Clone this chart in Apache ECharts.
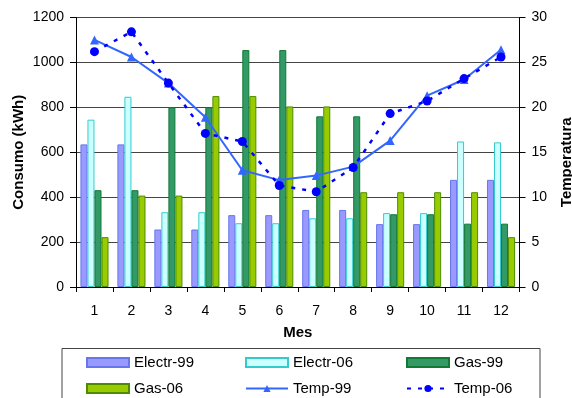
<!DOCTYPE html>
<html>
<head>
<meta charset="utf-8">
<script src="https://cdn.jsdelivr.net/npm/echarts@6/dist/echarts.min.js"></script>
<style>
  html, body { margin: 0; padding: 0; background: #fff; }
  #chart { width: 572px; height: 398px; }
</style>
</head>
<body>
<div id="chart"></div>
<script>
// Monthly energy consumption (kWh) and mean temperature, 1999 vs 2006
const months = ['1', '2', '3', '4', '5', '6', '7', '8', '9', '10', '11', '12'];
const electr99 = [635, 635, 256, 256, 320, 320, 343, 343, 280, 280, 477, 477];
const electr06 = [745, 847, 333, 333, 284, 284, 306, 306, 329, 329, 648, 644];
const gas99 = [431, 431, 800, 800, 1055, 1055, 760, 760, 324, 324, 282, 282];
const gas06 = [222, 407, 407, 850, 850, 804, 804, 422, 422, 422, 422, 222];
const temp99 = [27.5, 25.6, 22.7, 18.9, 13.0, 11.9, 12.4, 13.4, 16.3, 21.3, 23.1, 26.4];
const temp06 = [26.2, 28.4, 22.7, 17.1, 16.2, 11.3, 10.6, 13.3, 19.3, 20.7, 23.2, 25.6];
const leftTicks = [0, 1200, 200];
const rightTicks = [0, 30, 5];

const font = 'Liberation Sans, Arial, sans-serif';
const chart = echarts.init(document.getElementById('chart'), null, { renderer: 'canvas' });

function bar(name, data, fill, border) {
  return {
    name, type: 'bar', data, yAxisIndex: 0,
    barGap: '0%', barCategoryGap: '24%',
    itemStyle: { color: fill, borderColor: border, borderWidth: 1 },
    emphasis: { disabled: true }
  };
}

function legendAt(name, left, top, icon) {
  const l = {
    data: [name], left, top, padding: 0,
    itemWidth: 42, itemHeight: 9, itemGap: 0,
    textStyle: { fontFamily: font, fontSize: 15, color: '#000' },
    selectedMode: false
  };
  if (icon) l.icon = icon;
  return l;
}

chart.setOption({
  animation: false,
  backgroundColor: '#fff',
  textStyle: { fontFamily: font },
  grid: { left: 76, right: 52.5, top: 17.5, bottom: 111, containLabel: false, outerBoundsMode: 'none' },
  legend: [
    legendAt('Electr-99', 86, 355, 'rect'),
    legendAt('Electr-06', 245, 355, 'rect'),
    legendAt('Gas-99', 406, 355, 'rect'),
    legendAt('Gas-06', 86, 381, 'rect'),
    legendAt('Temp-99', 245, 381),
    legendAt('Temp-06', 406, 381)
  ],
  graphic: [{
    type: 'rect', silent: true, z: -1,
    shape: { x: 62, y: 348.5, width: 478, height: 80 },
    style: { fill: 'none', stroke: '#444', lineWidth: 1 }
  }],
  xAxis: {
    type: 'category', data: months, boundaryGap: true,
    name: 'Mes', nameLocation: 'middle', nameGap: 38,
    nameTextStyle: { fontFamily: font, fontSize: 15, fontWeight: 'bold', color: '#000' },
    axisLine: { lineStyle: { color: '#000', width: 1 } },
    axisTick: { show: true, alignWithLabel: false, length: 5, lineStyle: { color: '#000' } },
    axisLabel: { fontFamily: font, fontSize: 14, color: '#000', margin: 17 }
  },
  yAxis: [{
    type: 'value', min: leftTicks[0], max: leftTicks[1], interval: leftTicks[2],
    name: 'Consumo (kWh)', nameLocation: 'middle', nameGap: 50, nameRotate: 90, nameMoveOverlap: false,
    nameTextStyle: { fontFamily: font, fontSize: 15, fontWeight: 'bold', color: '#000' },
    axisLine: { show: true, lineStyle: { color: '#000', width: 1 } },
    axisTick: { show: true, length: 6, lineStyle: { color: '#000' } },
    axisLabel: { fontFamily: font, fontSize: 14, color: '#000', margin: 12, formatter: v => String(v) },
    splitLine: { show: true, lineStyle: { color: '#444', width: 1 } }
  }, {
    type: 'value', position: 'right', min: rightTicks[0], max: rightTicks[1], interval: rightTicks[2],
    name: 'Temperatura', nameLocation: 'middle', nameGap: 40, nameRotate: 90,
    nameTextStyle: { fontFamily: font, fontSize: 15, fontWeight: 'bold', color: '#000', padding: [0, 20, 0, 0] },
    axisLine: { show: true, lineStyle: { color: '#000', width: 1 } },
    axisTick: { show: true, length: 6, lineStyle: { color: '#000' } },
    axisLabel: { fontFamily: font, fontSize: 14, color: '#000', margin: 12, formatter: v => String(v) },
    splitLine: { show: false }
  }],
  series: [
    bar('Electr-99', electr99, '#9999ff', '#6677ee'),
    bar('Electr-06', electr06, '#ccffff', '#33cccc'),
    bar('Gas-99', gas99, '#339966', '#117a33'),
    bar('Gas-06', gas06, '#99cc00', '#4d8c00'),
    {
      name: 'Temp-99', type: 'line', yAxisIndex: 1, data: temp99, z: 5,
      symbol: 'triangle', symbolSize: 9, showAllSymbol: true,
      lineStyle: { color: '#3366ff', width: 2 },
      itemStyle: { color: '#3366ff' },
      emphasis: { disabled: true }
    },
    {
      name: 'Temp-06', type: 'line', yAxisIndex: 1, data: temp06, z: 6,
      symbol: 'circle', symbolSize: 9, showAllSymbol: true,
      lineStyle: { color: '#0000ff', width: 2.5, type: [4, 7] },
      itemStyle: { color: '#0000ff' },
      emphasis: { disabled: true }
    }
  ]
});
</script>
</body>
</html>
